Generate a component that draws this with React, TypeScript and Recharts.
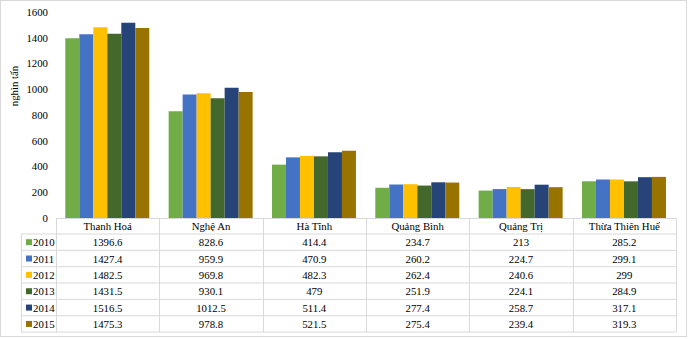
import React from 'react';
import { BarChart, Bar, XAxis, YAxis, Customized } from 'recharts';

const categories = ['Thanh Hoá', 'Nghệ An', 'Hà Tĩnh', 'Quảng Bình', 'Quảng Trị', 'Thừa Thiên Huế'];
const years = ['2010', '2011', '2012', '2013', '2014', '2015'];
const v2010 = [1396.6, 828.6, 414.4, 234.7, 213, 285.2];
const v2011 = [1427.4, 959.9, 470.9, 260.2, 224.7, 299.1];
const v2012 = [1482.5, 969.8, 482.3, 262.4, 240.6, 299];
const v2013 = [1431.5, 930.1, 479, 251.9, 224.1, 284.9];
const v2014 = [1516.5, 1012.5, 511.4, 277.4, 258.7, 317.1];
const v2015 = [1475.3, 978.8, 521.5, 275.4, 239.4, 319.3];
const yTicks = [0, 200, 400, 600, 800, 1000, 1200, 1400, 1600];
const yLabel = 'nghìn tấn';

const seriesValues = [v2010, v2011, v2012, v2013, v2014, v2015];
const colors = ['#70AD47', '#4472C4', '#FFC000', '#43682B', '#264478', '#997300'];

const data = categories.map((name, i) => {
  const row: Record<string, any> = { name };
  years.forEach((y, k) => {
    row[y] = seriesValues[k][i];
  });
  return row;
});

const W = 689;
const H = 339;
const PLOT_LEFT = 56;
const PLOT_RIGHT = 676;
const PLOT_TOP = 12;
const PLOT_BOTTOM = 218;
const HEADER_BOTTOM = 234;
const ROW_H = 16.35;
const TABLE_LEFT = 21;
const BAND = (PLOT_RIGHT - PLOT_LEFT) / categories.length;
const FONT = 'Times New Roman, Liberation Serif, DejaVu Serif, serif';
const FS = 10.8;
const LINE = '#d9d9d9';
const TEXT = '#000000';
const textStyle = { fontFamily: FONT, fontSize: FS };

const TableTick = (props: any) => {
  const { x, payload } = props;
  const idx = categories.indexOf(payload.value);
  return (
    <g>
      <text x={x} y={PLOT_BOTTOM + 12} textAnchor="middle" style={textStyle} fill={TEXT}>
        {payload.value}
      </text>
      {seriesValues.map((vals, k) => (
        <text
          key={k}
          x={x}
          y={HEADER_BOTTOM + ROW_H * k + ROW_H / 2 + 4}
          textAnchor="middle"
          style={textStyle}
          fill={TEXT}
        >
          {idx >= 0 ? String(vals[idx]) : ''}
        </text>
      ))}
    </g>
  );
};

const TableFrame = () => {
  const tableBottom = HEADER_BOTTOM + ROW_H * years.length;
  const lines: React.ReactNode[] = [];
  lines.push(<line key="top" x1={PLOT_LEFT} x2={PLOT_RIGHT} y1={PLOT_BOTTOM + 0.5} y2={PLOT_BOTTOM + 0.5} stroke={LINE} />);
  for (let r = 0; r <= years.length; r++) {
    const y = HEADER_BOTTOM + ROW_H * r;
    lines.push(<line key={'h' + r} x1={TABLE_LEFT} x2={PLOT_RIGHT} y1={y} y2={y} stroke={LINE} />);
  }
  lines.push(<line key="vl" x1={TABLE_LEFT + 0.5} x2={TABLE_LEFT + 0.5} y1={HEADER_BOTTOM} y2={tableBottom} stroke={LINE} />);
  for (let c = 0; c <= categories.length; c++) {
    const x = Math.round(PLOT_LEFT + BAND * c) + 0.5;
    lines.push(<line key={'v' + c} x1={x} x2={x} y1={PLOT_BOTTOM} y2={tableBottom} stroke={LINE} />);
  }
  return (
    <g>
      <rect x={0.5} y={0.5} width={686} height={336} fill="none" stroke={LINE} />
      {lines}
      {years.map((yr, k) => {
        const cy = HEADER_BOTTOM + ROW_H * k + ROW_H / 2;
        return (
          <g key={yr}>
            <rect x={26} y={cy - 3} width={6} height={6} fill={colors[k]} />
            <text x={33} y={cy + 4} style={textStyle} fill={TEXT}>
              {yr}
            </text>
          </g>
        );
      })}
      <text
        x={0}
        y={0}
        transform={`translate(18, 86) rotate(-90)`}
        textAnchor="middle"
        style={textStyle}
        fill={TEXT}
      >
        {yLabel}
      </text>
    </g>
  );
};

export default function App() {
  return (
    <div style={{ position: 'absolute', left: 0, top: 0, width: W, height: H, background: '#ffffff', fontFamily: FONT }}>
      <BarChart
        width={W}
        height={H}
        data={data}
        margin={{ top: PLOT_TOP, right: W - PLOT_RIGHT, left: 0, bottom: 0 }}
        barCategoryGap="9%"
        barGap={0}
        style={{ fontFamily: FONT }}
      >
        <XAxis
          dataKey="name"
          height={H - PLOT_BOTTOM}
          axisLine={false}
          tickLine={false}
          interval={0}
          tick={<TableTick />}
        />
        <YAxis
          width={PLOT_LEFT}
          domain={[0, 1600]}
          ticks={yTicks}
          axisLine={false}
          tickLine={false}
          tickSize={0}
          tickMargin={8}
          tick={{ style: textStyle, fill: TEXT }}
        />
        {years.map((yr, k) => (
          <Bar key={yr} dataKey={yr} fill={colors[k]} isAnimationActive={false} />
        ))}
        <Customized component={<TableFrame />} />
      </BarChart>
    </div>
  );
}
